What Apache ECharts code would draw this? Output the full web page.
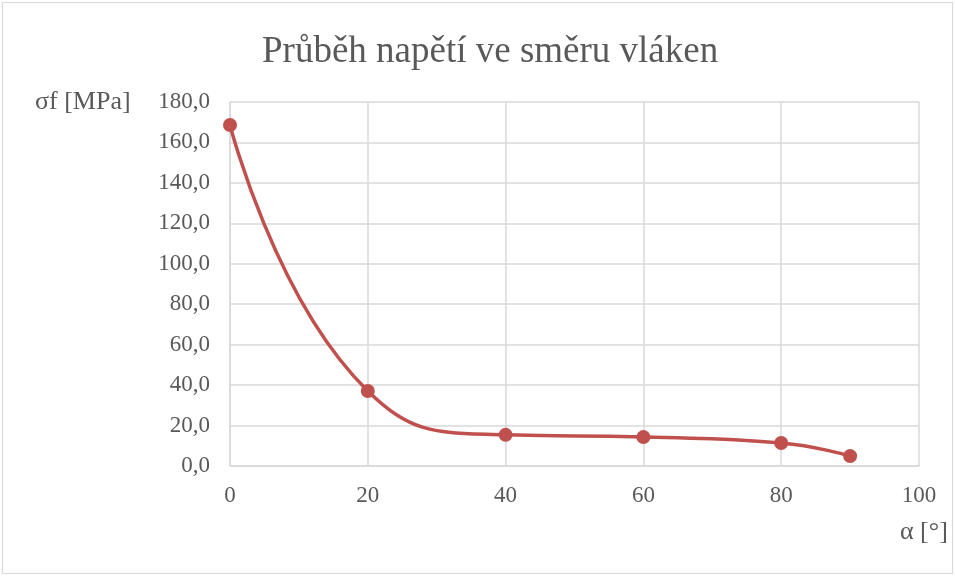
<!DOCTYPE html>
<html>
<head>
<meta charset="utf-8">
<script src="https://cdn.jsdelivr.net/npm/echarts@6/dist/echarts.min.js"></script>
<style>
  html, body { margin: 0; padding: 0; background: #fff; }
  #chart {
    width: 951px;
    height: 572px;
    margin: 2px 0 0 2px;
    border: 1px solid #d9d9d9;
    box-sizing: border-box;
  }
</style>
</head>
<body>
<div id="chart"></div>
<script>
// úhel vláken [°] a napětí [MPa]
var uhel = [0, 20, 40, 60, 80, 90];
var napeti = [168.6, 37.1, 15.4, 14.3, 11.4, 4.9];
var titulek = 'Průběh napětí ve směru vláken';
var osaY = 'σf [MPa]';
var osaX = 'α [°]';

var body = uhel.map(function (u, i) { return [u, napeti[i]]; });
var pismo = '"Liberation Serif", "DejaVu Serif", serif';

var myChart = echarts.init(document.getElementById('chart'));
myChart.setOption({
  textStyle: { fontFamily: pismo },
  title: {
    text: titulek,
    left: 254,
    top: 26,
    textStyle: { fontFamily: pismo, fontSize: 37, fontWeight: 'normal', color: '#595959' }
  },
  grid: { left: 227, right: 33, top: 99, bottom: 107 },
  graphic: [
    {
      type: 'text', left: 32, top: 86,
      style: { text: osaY, font: '26px ' + pismo, fill: '#595959' }
    },
    {
      type: 'text', left: 897, top: 516,
      style: { text: osaX, font: '26px ' + pismo, fill: '#595959' }
    }
  ],
  xAxis: {
    type: 'value',
    min: 0, max: 100, interval: 20,
    axisLine: { show: true, lineStyle: { color: '#d9d9d9', width: 1.5 } },
    axisTick: { show: false },
    axisLabel: { color: '#595959', fontSize: 23, margin: 18, fontFamily: pismo },
    splitLine: { show: true, lineStyle: { color: '#d9d9d9', width: 1.5 } }
  },
  yAxis: {
    type: 'value',
    min: 0, max: 180, interval: 20,
    axisLine: { show: true, lineStyle: { color: '#d9d9d9', width: 1.5 } },
    axisTick: { show: false },
    axisLabel: {
      color: '#595959', fontSize: 23, margin: 20, fontFamily: pismo,
      formatter: function (v) { return v.toFixed(1).replace('.', ','); }
    },
    splitLine: { show: true, lineStyle: { color: '#d9d9d9', width: 1.5 } }
  },
  series: [
    {
      type: 'line',
      data: body,
      smooth: 0.5,
      symbol: 'circle',
      symbolSize: 14,
      lineStyle: { color: '#c0504d', width: 3.5 },
      itemStyle: { color: '#c0504d' }
    }
  ]
});
</script>
</body>
</html>
